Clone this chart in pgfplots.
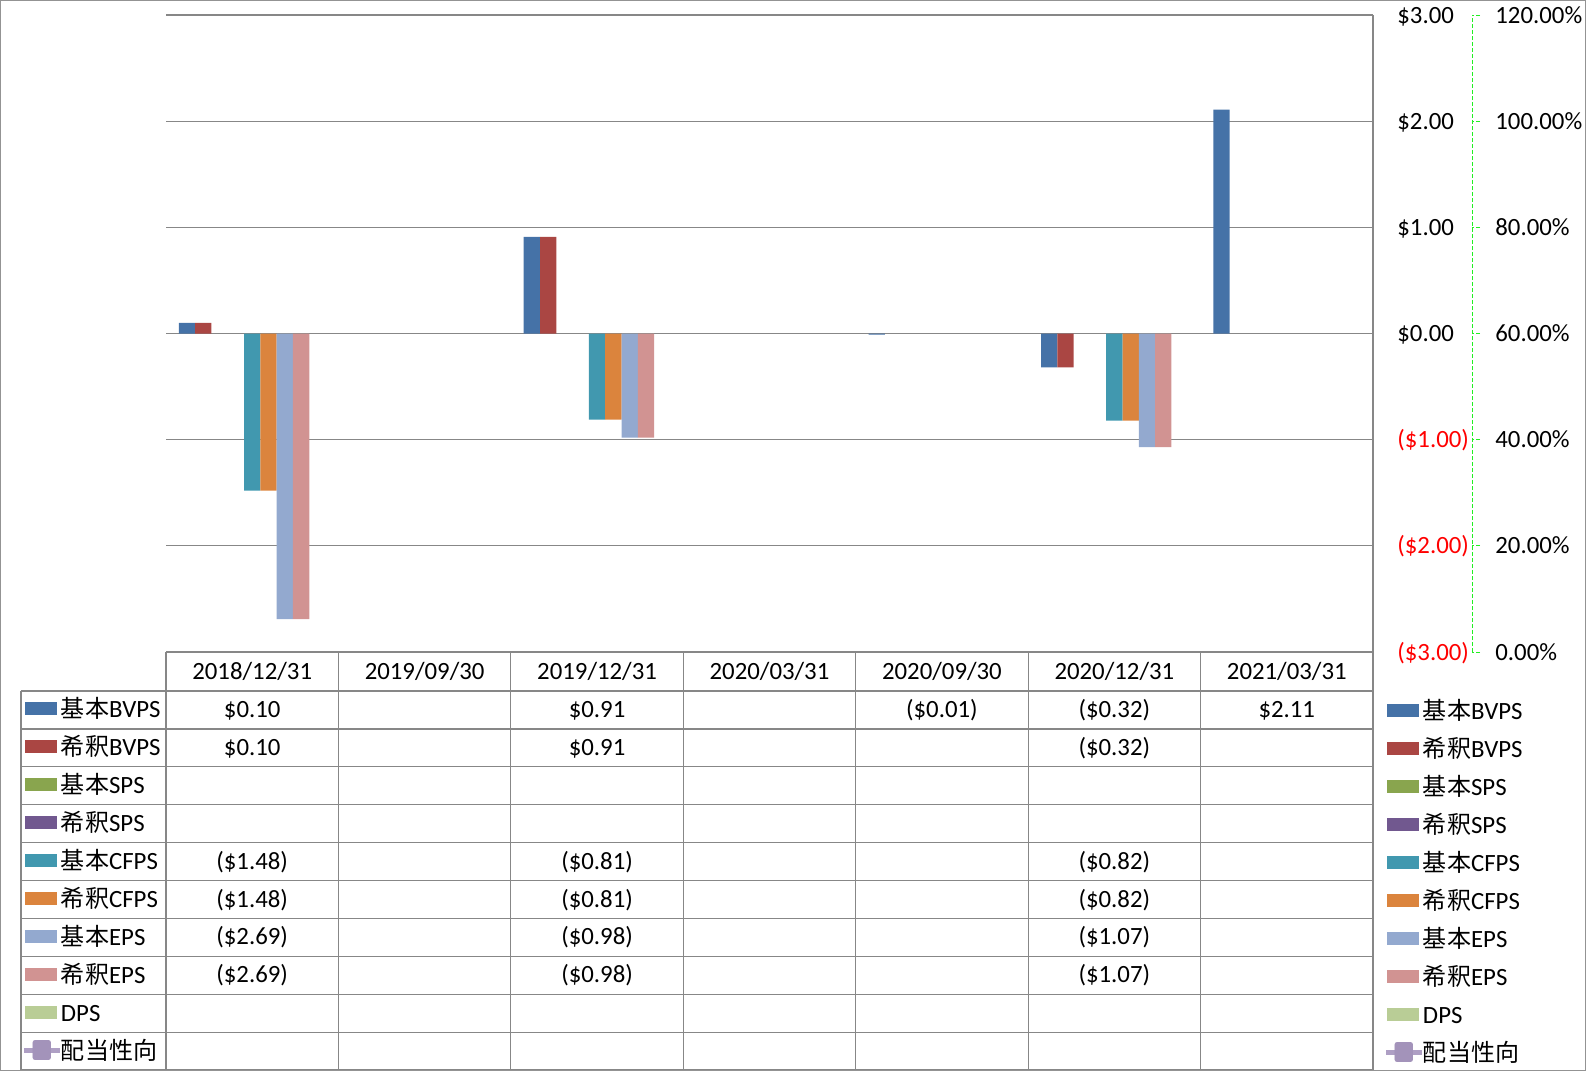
\documentclass[border=0pt]{standalone}
\usepackage{pgfplots}
\pgfplotsset{compat=1.18}
\usepackage{pgfplotstable}
\usepackage{fontspec}
\setmainfont{Carlito}
\newfontfamily\jp[Scale=0.97]{Noto Sans CJK JP}

\definecolor{cA}{HTML}{4572A7}
\definecolor{cB}{HTML}{AA4643}
\definecolor{cC}{HTML}{89A54E}
\definecolor{cD}{HTML}{71588F}
\definecolor{cE}{HTML}{4198AF}
\definecolor{cF}{HTML}{DB843D}
\definecolor{cG}{HTML}{93A9CF}
\definecolor{cH}{HTML}{D19392}
\definecolor{cI}{HTML}{B9CD96}
\definecolor{cLav}{HTML}{A393BA}
\definecolor{cLavL}{HTML}{AE9FC4}
\definecolor{gridc}{HTML}{878787}
\definecolor{lgreen}{HTML}{22EE22}

% per share figures, x = period index
\pgfplotstableread{
x bbvps dbvps bcfps dcfps beps deps
0 0.10 0.10 -1.48 -1.48 -2.69 -2.69
1 nan nan nan nan nan nan
2 0.91 0.91 -0.81 -0.81 -0.98 -0.98
3 nan nan nan nan nan nan
4 -0.01 nan nan nan nan nan
5 -0.32 -0.32 -0.82 -0.82 -1.07 -1.07
6 2.11 nan nan nan nan nan
}\pershare

\pgfplotsset{
  barkey/.style={legend image code/.code={\fill[##1] (0pt,-2.25pt) rectangle (16pt,4.25pt);}},
  linekey/.style={legend image code/.code={%
      \draw[cLavL, line width=2.5pt] (-0.5pt,1pt) -- (17.5pt,1pt);
      \fill[cLav, rounded corners=1pt] (3.75pt,-3.75pt) rectangle (12.5pt,5.75pt);}},
  tablelegend/.style={
    legend cell align=left,
    legend style={draw=none, fill=none, inner sep=0pt, outer sep=0pt,
      column sep=-1pt, row sep=0pt, anchor=north west,
      nodes={inner sep=0pt, text height=13.25pt, text depth=5.75pt}},
  },
  allkeys/.code={
    \addlegendimage{barkey, fill=cA, draw=none}\addlegendentry{{\jp 基本}BVPS}
    \addlegendimage{barkey, fill=cB, draw=none}\addlegendentry{{\jp 希釈}BVPS}
    \addlegendimage{barkey, fill=cC, draw=none}\addlegendentry{{\jp 基本}SPS}
    \addlegendimage{barkey, fill=cD, draw=none}\addlegendentry{{\jp 希釈}SPS}
    \addlegendimage{barkey, fill=cE, draw=none}\addlegendentry{{\jp 基本}CFPS}
    \addlegendimage{barkey, fill=cF, draw=none}\addlegendentry{{\jp 希釈}CFPS}
    \addlegendimage{barkey, fill=cG, draw=none}\addlegendentry{{\jp 基本}EPS}
    \addlegendimage{barkey, fill=cH, draw=none}\addlegendentry{{\jp 希釈}EPS}
    \addlegendimage{barkey, fill=cI, draw=none}\addlegendentry{DPS}
    \addlegendimage{linekey}\addlegendentry{{\jp 配当性向}}
  },
}

\begin{document}
\fontsize{12.4pt}{15pt}\selectfont
\begin{tikzpicture}
\useasboundingbox (0,0) rectangle (793pt,-535.5pt);

% secondary axis (payout ratio), only its axis line and the table legend
\begin{axis}[
  at={(83pt,-326pt)}, anchor=south west,
  width=653pt, height=318.5pt, scale only axis,
  xmin=0, xmax=1, ymin=0, ymax=120,
  axis x line=none, axis y line*=right,
  y axis line style={-, lgreen, line width=0.5pt, dash pattern=on 2pt off 1pt},
  ytick={0,20,...,120},
  yticklabels={0.00\%,20.00\%,40.00\%,60.00\%,80.00\%,100.00\%,120.00\%},
  tick align=outside, major tick length=4pt,
  ytick style={lgreen, line width=0.5pt, dash pattern=on 2pt off 1pt},
  yticklabel style={anchor=base west, inner sep=0pt, xshift=7.5pt, yshift=-4pt},
  tablelegend,
  legend style={at={(-0.11026,-0.06122)}},
]
\pgfplotsset{allkeys}
\end{axis}

% primary axis, per share values
\begin{axis}[
  at={(83pt,-326pt)}, anchor=south west,
  width=603.5pt, height=318.5pt, scale only axis,
  xmin=-0.5, xmax=6.5, ymin=-3, ymax=3,
  axis x line=none, axis y line*=right,
  y axis line style={-, gridc, line width=0.6pt},
  ytick={-3,...,3},
  yticklabels={\textcolor{red}{(\$3.00)},\textcolor{red}{(\$2.00)},\textcolor{red}{(\$1.00)},\$0.00,\$1.00,\$2.00,\$3.00},
  major tick length=0pt,
  yticklabel style={anchor=base west, inner sep=0pt, xshift=12pt, yshift=-4pt},
  ymajorgrids, grid style={gridc, line width=0.6pt},
  tablelegend,
  legend style={at={(1.00911,-0.06436)}},
]
\addplot[forget plot, ybar, bar width=8.15pt, bar shift=-32.6pt, fill=cA, draw=none] table[x=x, y=bbvps] {\pershare};
\addplot[forget plot, ybar, bar width=8.15pt, bar shift=-24.45pt, fill=cB, draw=none] table[x=x, y=dbvps] {\pershare};
\addplot[forget plot, ybar, bar width=8.15pt, bar shift=0pt, fill=cE, draw=none] table[x=x, y=bcfps] {\pershare};
\addplot[forget plot, ybar, bar width=8.15pt, bar shift=8.15pt, fill=cF, draw=none] table[x=x, y=dcfps] {\pershare};
\addplot[forget plot, ybar, bar width=8.15pt, bar shift=16.3pt, fill=cG, draw=none] table[x=x, y=beps] {\pershare};
\addplot[forget plot, ybar, bar width=8.15pt, bar shift=24.45pt, fill=cH, draw=none] table[x=x, y=deps] {\pershare};
\pgfplotsset{allkeys}
\end{axis}

% data table below the plot
\begin{scope}[x=0.5pt, y=-0.5pt]
\draw[gridc, line width=0.6pt] (166,652) -- (1373,652);
\foreach \k in {0,...,10}
  \draw[gridc, line width=0.6pt] (21,{691+37.9*\k}) -- (1373,{691+37.9*\k});
\draw[gridc, line width=0.6pt] (21,691) -- (21,1070);
\foreach \c in {0,...,7}
  \draw[gridc, line width=0.6pt] ({166+172.43*\c},652) -- ({166+172.43*\c},1070);
\foreach \d [count=\c from 0] in {2018/12/31,2019/09/30,2019/12/31,2020/03/31,2020/09/30,2020/12/31,2021/03/31}
  \node[anchor=base, inner sep=0pt] at ({252.2+172.43*\c},679) {\d};
% rows: value text, column, row
\foreach \v/\c/\r in {
  \$0.10/0/0, \$0.91/2/0, (\$0.01)/4/0, (\$0.32)/5/0, \$2.11/6/0,
  \$0.10/0/1, \$0.91/2/1, (\$0.32)/5/1,
  (\$1.48)/0/4, (\$0.81)/2/4, (\$0.82)/5/4,
  (\$1.48)/0/5, (\$0.81)/2/5, (\$0.82)/5/5,
  (\$2.69)/0/6, (\$0.98)/2/6, (\$1.07)/5/6,
  (\$2.69)/0/7, (\$0.98)/2/7, (\$1.07)/5/7}
  \node[anchor=base, inner sep=0pt] at ({252.2+172.43*\c},{717.5+37.9*\r}) {\v};
\draw[gridc!90, line width=0.5pt] (0.5,0.5) rectangle (1585.5,1070.5);
\end{scope}
\end{tikzpicture}
\end{document}
